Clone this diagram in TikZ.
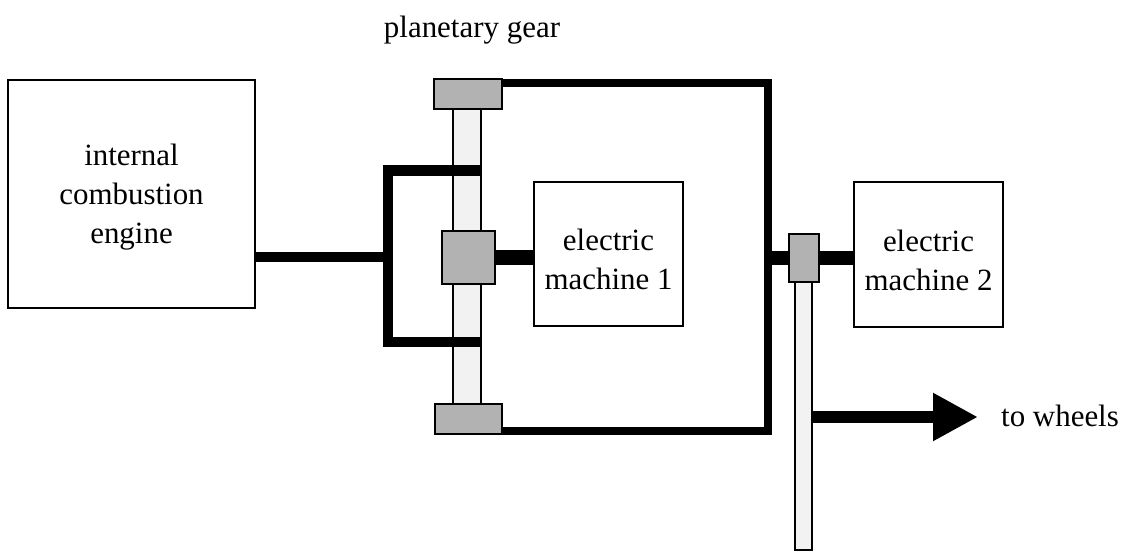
\documentclass[tikz,border=0pt]{standalone}
\usepackage{fontspec}
\setmainfont{Liberation Serif}
\usepackage{xcolor}
\usepackage{tikz}
\usetikzlibrary{arrows.meta}
\tikzset{
  unit/.style={draw,line width=1.1pt,fill=white,inner sep=0pt,align=center,font=\fontsize{22}{27.7}\selectfont},
  shaft/.style={draw,line width=1.9pt,fill=black!5,inner sep=0pt},
  gear/.style={draw,line width=1.3pt,fill=black!30,inner sep=0pt},
  label/.style={inner sep=0pt,font=\fontsize{22}{27.7}\selectfont},
}
\begin{document}
\begin{tikzpicture}[x=0.025cm,y=-0.025cm]
    \useasboundingbox (0,0) rectangle (1132,552);
    % boxes
    \node[unit,minimum width=6.175cm,minimum height=5.7cm] (engine) at (131.5,194) {\rule{0pt}{19.3pt}internal\\combustion\\engine};
    \node[unit,minimum width=3.725cm,minimum height=3.6cm] (em1) at (608.5,254) {\rule{0pt}{23.5pt}electric\\machine 1};
    \node[unit,minimum width=3.725cm,minimum height=3.625cm] (em2) at (928.5,254.5) {\rule{0pt}{23.5pt}electric\\machine 2};
    % planetary gear
    \node[label] (title) at (472,30) {planetary gear};
    \node[shaft,minimum width=0.7cm,minimum height=7.4cm] (planet) at (467,256) {};
    \coordinate (cartop) at (481,170.5);
    \coordinate (carbot) at (481,342);
    \coordinate (carmid) at (388,257);
    \coordinate (ringcor) at (768,83);
    \coordinate (ringend) at (768,431);
    \coordinate (ringa) at (502,83);
    \coordinate (ringb) at (502,431);
    \draw[line width=7.3pt] (cartop) -- (carmid |- cartop) -- (carmid |- carbot) -- (carbot);
    \draw[line width=7.3pt] (engine.east |- carmid) -- (carmid);
    \draw[line width=5pt,line cap=rect] (ringa) -- (ringcor) -- (ringend) -- (ringb);
    \node[gear,minimum width=1.7cm,minimum height=0.75cm] (ringtop) at (468,94) {};
    \node[gear,minimum width=1.675cm,minimum height=0.75cm] (ringbot) at (468.5,419) {};
    \node[gear,minimum width=1.325cm,minimum height=1.325cm] (sun) at (468.5,257.5) {};
    \draw[line width=10.5pt] (sun.east) -- (em1.west |- sun.east);
    % output
    \node[shaft,minimum width=0.425cm,minimum height=6.7cm] (output) at (803.5,416) {};
    \coordinate (outjoin) at (768,258);
    \draw[line width=10.5pt] (outjoin) -- (em2.west |- outjoin);
    \node[gear,minimum width=0.75cm,minimum height=1.2cm] (pinion) at (804,258) {};
    \node[label] (wheels) at (1060,415.5) {to wheels};
    \coordinate (wheeltip) at (978,417);
    \draw[line width=8pt,-{Triangle[length=32pt,width=32pt]}] (output.east |- wheeltip) -- (wheeltip);
  \end{tikzpicture}
\end{document}
